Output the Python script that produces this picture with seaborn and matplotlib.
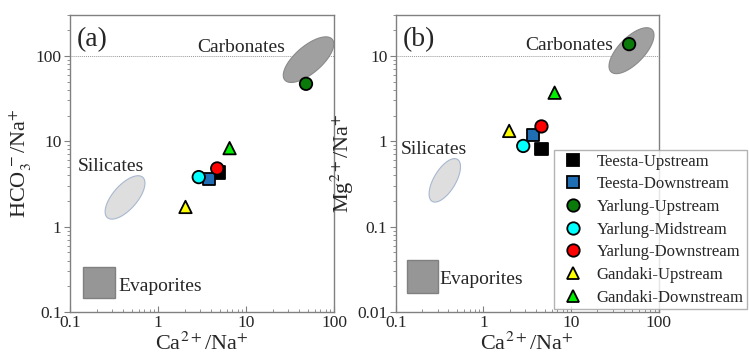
import numpy as np
import pandas as pd
import matplotlib
matplotlib.use("Agg")
import matplotlib.pyplot as plt
import seaborn as sns

# ---- data ----
groups = ["Teesta-Upstream", "Teesta-Downstream", "Yarlung-Upstream", "Yarlung-Midstream",
          "Yarlung-Downstream", "Gandaki-Upstream", "Gandaki-Downstream"]
colors = ["#000000", "#1f6db3", "#0a7a0a", "#00ffff", "#ff0000", "#ffff00", "#00ee00"]
markers = ["s", "s", "o", "o", "o", "^", "^"]

ca_na_a = [4.9, 3.8, 48, 2.9, 4.7, 2.05, 6.5]
hco3_na = [4.3, 3.6, 47, 3.8, 4.8, 1.7, 8.3]

ca_na_b = [4.6, 3.7, 46, 2.85, 4.6, 1.97, 6.5]
mg_na = [0.81, 1.19, 13.7, 0.88, 1.49, 1.32, 3.7]

# end-member regions (log10 centre x, log10 centre y, semi-major, semi-minor [decades], angle deg)
carb_a = (1.71, 1.955, 0.36, 0.155, 42)
sil_a = (-0.375, 0.342, 0.31, 0.14, 50)
evap_a = (0.139, 0.147, 0.327, 0.34)   # x0, y0, x1, y1
carb_b = (1.69, 1.06, 0.34, 0.15, 47)
sil_b = (-0.44, -0.458, 0.285, 0.125, 60)
evap_b = (0.133, 0.0166, 0.305, 0.041)

sns.set_style("white")
plt.rcParams["font.family"] = ["Liberation Serif", "DejaVu Serif"]
plt.rcParams["mathtext.fontset"] = "stix"

df_a = pd.DataFrame({"x": ca_na_a, "y": hco3_na, "g": groups})
df_b = pd.DataFrame({"x": ca_na_b, "y": mg_na, "g": groups})
pal = dict(zip(groups, colors))
mk = dict(zip(groups, markers))

fig = plt.figure(figsize=(7.49, 3.62), dpi=100)
ax1 = fig.add_axes([0.0935, 0.138, 0.3525, 0.8204])
ax2 = fig.add_axes([0.5283, 0.138, 0.3511, 0.8204])


def ellipse(ax, p, fc, ec):
    cx, cy, a, b, ang = p
    t = np.linspace(0, 2 * np.pi, 200)
    th = np.deg2rad(ang)
    lx = cx + a * np.cos(t) * np.cos(th) - b * np.sin(t) * np.sin(th)
    ly = cy + a * np.cos(t) * np.sin(th) + b * np.sin(t) * np.cos(th)
    ax.fill(10 ** lx, 10 ** ly, facecolor=fc, edgecolor=ec, lw=0.8, zorder=1)


def rect(ax, r):
    x0, y0, x1, y1 = r
    ax.fill([x0, x1, x1, x0], [y0, y0, y1, y1], facecolor="#969696", edgecolor="#808080",
            lw=1.0, zorder=1)


for ax, df, ylim, yref, carb, sil, evap, ylab in [
    (ax1, df_a, (0.1, 300), 100, carb_a, sil_a, evap_a, r"HCO$_3^{\,-}$/Na$^{+}$"),
    (ax2, df_b, (0.01, 30), 10, carb_b, sil_b, evap_b, r"Mg$^{2+}$/Na$^{+}$"),
]:
    ax.set_xscale("log")
    ax.set_yscale("log")
    ax.set_xlim(0.1, 100)
    ax.set_ylim(*ylim)
    ax.axhline(yref, color="#999999", lw=0.7, ls=(0, (1, 1)), zorder=0)
    ellipse(ax, carb, "#a0a0a0", "#8a8a8a")
    ellipse(ax, sil, "#dedede", "#a8b8d0")
    rect(ax, evap)
    sns.scatterplot(data=df, x="x", y="y", hue="g", style="g", palette=pal, markers=mk,
                    s=80, edgecolor="black", linewidth=1.3, ax=ax, zorder=3,
                    legend=(ax is ax2))
    ax.set_xlabel(r"Ca$^{2+}$/Na$^{+}$", fontsize=16, labelpad=1)
    ax.set_ylabel(ylab, fontsize=16, labelpad=1)
    ax.set_xticks([0.1, 1, 10, 100])
    ax.set_xticklabels(["0.1", "1", "10", "100"])
    for s in ax.spines.values():
        s.set_color("#808080")
        s.set_linewidth(1.0)
    ax.tick_params(axis="both", which="major", labelsize=12.5, length=4, color="#808080", pad=2)
    ax.tick_params(axis="x", which="both", direction="in")
    ax.tick_params(axis="y", which="both", direction="out")
    ax.tick_params(axis="both", which="minor", length=2, color="#808080")
    ax.tick_params(axis="both", which="both", left=True, bottom=True)

ax1.set_yticks([0.1, 1, 10, 100])
ax1.set_yticklabels(["0.1", "1", "10", "100"])
ax2.set_yticks([0.01, 0.1, 1, 10])
ax2.set_yticklabels(["0.01", "0.1", "1", "10"])

# text labels
ax1.text(0.025, 0.96, "(a)", transform=ax1.transAxes, fontsize=20, va="top", ha="left")
ax1.text(27.7, 112, "Carbonates", fontsize=14, ha="right", va="baseline")
ax1.text(0.29, 4.5, "Silicates", fontsize=14, ha="center", va="baseline")
ax1.text(0.35, 0.2, "Evaporites", fontsize=14, ha="left", va="center")

ax2.text(0.025, 0.96, "(b)", transform=ax2.transAxes, fontsize=20, va="top", ha="left")
ax2.text(30.5, 11.7, "Carbonates", fontsize=14, ha="right", va="baseline")
ax2.text(0.276, 0.71, "Silicates", fontsize=14, ha="center", va="baseline")
ax2.text(0.318, 0.024, "Evaporites", fontsize=14, ha="left", va="center")

leg = ax2.legend(loc="lower left", bbox_to_anchor=(0.7397, 0.1465), bbox_transform=fig.transFigure,
                 borderaxespad=0, fontsize=12, frameon=True, fancybox=False, edgecolor="#a0a0a0",
                 handletextpad=0.45, handlelength=1.9, labelspacing=0.4, borderpad=0.2,
                 markerscale=1.0)
leg.get_frame().set_linewidth(1.0)
leg.set_title(None)
for h in leg.legend_handles:
    try:
        h.set_markeredgecolor("black")
    except AttributeError:
        h.set_edgecolor("black")

fig.savefig("out.png", dpi=100)
